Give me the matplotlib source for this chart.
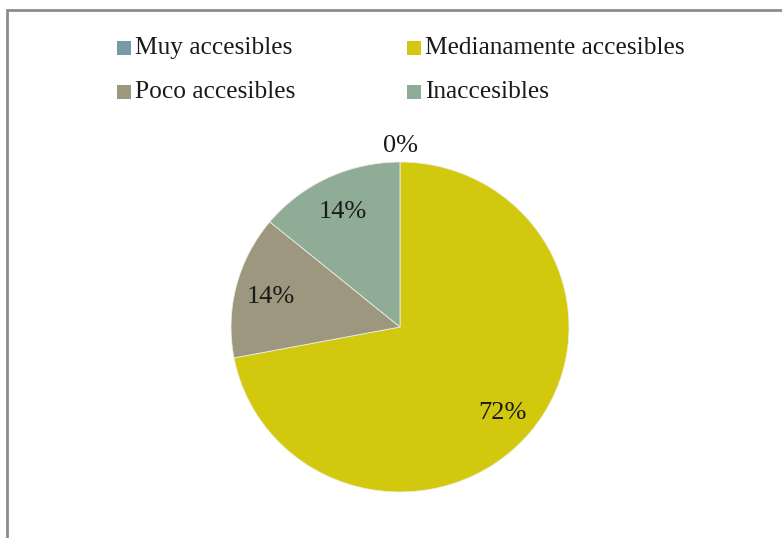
import numpy as np
import matplotlib.pyplot as plt
from matplotlib.patches import Rectangle

# Datos del gráfico
categorias = ["Muy accesibles", "Medianamente accesibles", "Poco accesibles", "Inaccesibles"]
porcentajes = [0, 72, 14, 14]
colores = ["#7899A6", "#D2C80D", "#9C977E", "#8FAC97"]

plt.rcParams['font.family'] = ['Liberation Serif', 'DejaVu Serif']

fig = plt.figure(figsize=(7.82, 5.38), dpi=100)
W, H = 782, 538

# Marco gris del área del gráfico
fig.patches.append(Rectangle((7 / W, -0.1), 1.2, (H - 10) / H + 0.1,
                             transform=fig.transFigure, fill=False,
                             edgecolor="#8C8C8C", linewidth=2))

# Área del pastel (ligeramente más ancho que alto)
cx, cy, rx, ry = 400, 327, 169, 165
ax = fig.add_axes([(cx - rx) / W, (H - cy - ry) / H, 2 * rx / W, 2 * ry / H])
cunas, _ = ax.pie(porcentajes, colors=colores, startangle=90, counterclock=False,
                  wedgeprops=dict(edgecolor="#EDEDE0", linewidth=0.6))
ax.set_aspect('auto')
ax.set_xlim(-1, 1)
ax.set_ylim(-1, 1)
ax.axis('off')

# Etiquetas de porcentaje
inicio = 90.0
for valor in porcentajes:
    medio = inicio - valor * 360 / 100 / 2
    inicio -= valor * 360 / 100
    r = 1.11 if valor == 0 else 0.79
    x = r * np.cos(np.radians(medio))
    y = r * np.sin(np.radians(medio))
    ax.text(x, y, f"{valor}%", ha='center', va='center_baseline', fontsize=19,
            color="#1a1a1a")

# Leyenda en dos columnas
col_x = [117, 407]
fila_y = [48, 92]
for i, (cat, col) in enumerate(zip(categorias, colores)):
    x = col_x[i % 2]
    y = fila_y[i // 2]
    fig.patches.append(Rectangle((x / W, (H - y - 6.5) / H), 14 / W, 13 / H,
                                 transform=fig.transFigure, facecolor=col, edgecolor='none'))
    fig.text((x + 18) / W, (H - y - 6) / H, cat, ha='left', va='baseline',
             fontsize=18.3, color="#1a1a1a")

fig.savefig("out.png", dpi=100)
